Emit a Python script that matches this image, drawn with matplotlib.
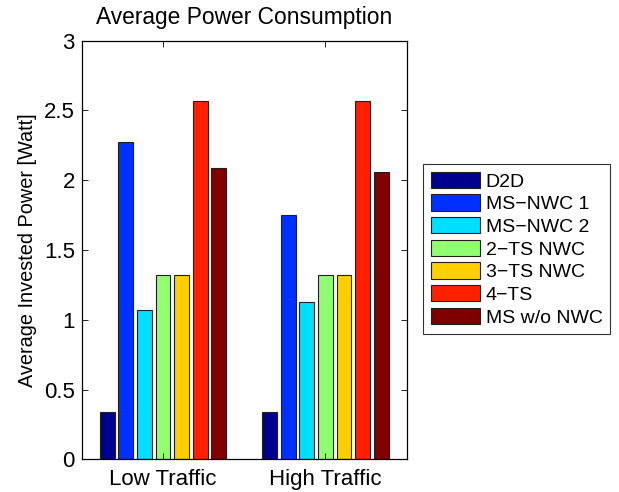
import matplotlib
matplotlib.use('Agg')
import matplotlib.pyplot as plt
import numpy as np

plt.rcParams['font.family'] = ['Liberation Sans', 'DejaVu Sans']

groups = ['Low Traffic', 'High Traffic']
series = ['D2D', 'MS\u2212NWC 1', 'MS\u2212NWC 2', '2\u2212TS NWC', '3\u2212TS NWC', '4\u2212TS', 'MS w/o NWC']
colors = ['#00008F', '#0030FF', '#00DFFF', '#90FF70', '#FFCF00', '#FF2000', '#800000']

d2d = [0.34, 0.34]
ms_nwc1 = [2.27, 1.75]
ms_nwc2 = [1.07, 1.13]
ts2_nwc = [1.32, 1.32]
ts3_nwc = [1.32, 1.32]
ts4 = [2.57, 2.57]
ms_wo_nwc = [2.09, 2.06]
values = [d2d, ms_nwc1, ms_nwc2, ts2_nwc, ts3_nwc, ts4, ms_wo_nwc]

fig = plt.figure(figsize=(6.19, 4.92), dpi=100)
ax = fig.add_axes([0.132, 0.0665, 0.525, 0.851])

x = np.arange(1, len(groups) + 1)
n = len(series)
step = min(0.8, n / (n + 1.5)) / n
width = 0.8 * step
for i in range(n):
    off = (i - (n - 1) / 2) * step
    ax.bar(x + off, values[i], width, color=colors[i], edgecolor='#202020',
           linewidth=0.8, label=series[i])

ax.set_xlim(0.5, 2.5)
ax.set_ylim(0, 3)
ax.set_xticks(x)
ax.set_xticklabels(groups)
ax.set_yticks(np.arange(0, 3.01, 0.5))
ax.set_yticklabels(['0', '0.5', '1', '1.5', '2', '2.5', '3'])
ax.tick_params(direction='in', top=True, right=True, labelsize=16, length=4, width=0.6)
ax.tick_params(axis='x', pad=7)
ax.tick_params(axis='y', pad=5)
for s in ax.spines.values():
    s.set_linewidth(0.9)
ax.set_ylabel('Average Invested Power [Watt]', fontsize=14.3, labelpad=5)
ax.set_title('Average Power Consumption', fontsize=16.4, pad=12)

leg = ax.legend(loc='upper left', bbox_to_anchor=(423.5 / 619, 1 - 164 / 492), bbox_transform=fig.transFigure,
                fontsize=14, handlelength=2.5, handleheight=0.9, labelspacing=0.2,
                fancybox=False, edgecolor='black', borderpad=0.4, handletextpad=0.3,
                borderaxespad=0)
leg.get_frame().set_linewidth(0.8)

fig.savefig('out.png', dpi=100)
